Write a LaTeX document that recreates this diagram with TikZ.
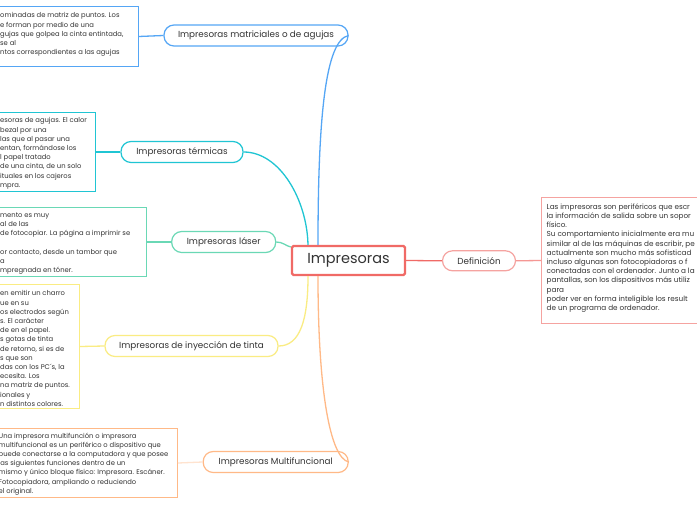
\documentclass[tikz,border=0pt]{standalone}
\usepackage{fontspec}
\setmainfont{Poppins}
\definecolor{txt}{HTML}{333333}
\definecolor{cRed}{HTML}{F06A66}
\definecolor{cSalmon}{HTML}{F5A3A0}
\definecolor{cBlue}{HTML}{55A6F5}
\definecolor{cCyan}{HTML}{20C5D3}
\definecolor{cMint}{HTML}{6AD8B5}
\definecolor{cYellow}{HTML}{FAEC83}
\definecolor{cOrange}{HTML}{FFB987}
\definecolor{cPeach}{HTML}{FFE3CF}
\tikzset{
  pill/.style={draw, rounded corners=10pt, line width=1.2pt, fill=white, minimum height=21pt, inner sep=0pt, font=\fontsize{8.8}{10}\selectfont, text=txt},
  infobox/.style={draw, line width=1pt, fill=white, inner sep=0pt, anchor=north west},
  boxtext/.style={anchor=north west, inner sep=0pt, align=left, font=\fontsize{6.8}{9.2}\selectfont, text=txt},
  link/.style={line width=1.3pt}
}
\begin{document}
\begin{tikzpicture}[x=1pt,y=-1pt]
\useasboundingbox (0,0) rectangle (697,520);
\fill[white] (0,0) rectangle (697,520);
\clip (0,0) rectangle (697,520);

% central
\node[draw=cRed, line width=2.4pt, rounded corners=1.5pt, fill=white, minimum width=113pt, minimum height=29pt, inner sep=0pt, text=txt, font=\fontsize{14.5}{16}\selectfont] (central) at (348.5,260.5) {Impresoras};

% pills
\node[pill, draw=cBlue, minimum width=184pt] (mat) at (256,35.5) {Impresoras matriciales o de agujas};
\node[pill, draw=cCyan, minimum width=122pt] (term) at (182,152) {Impresoras térmicas};
\node[pill, draw=cMint, minimum width=104pt] (laser) at (223.7,242) {Impresoras láser};
\node[pill, draw=cYellow, minimum width=173pt] (iny) at (191.5,346) {Impresoras de inyección de tinta};
\node[pill, draw=cOrange, minimum width=145pt] (multi) at (275.7,462) {Impresoras Multifuncional};
\node[pill, draw=cSalmon, minimum width=73pt, minimum height=20pt] (def) at (479,260.8) {Definición};

% boxes
\node[infobox, draw=cBlue, minimum width=147.5pt, minimum height=60pt] (matbox) at (-10,6) {};
\node[infobox, draw=cCyan, minimum width=105pt, minimum height=79pt] (termbox) at (-10,112) {};
\node[infobox, draw=cMint, minimum width=156pt, minimum height=69pt] (laserbox) at (-10,207) {};
\node[infobox, draw=cYellow, minimum width=89pt, minimum height=124pt] (inybox) at (-10,284) {};
\node[infobox, draw=cOrange, minimum width=187pt, minimum height=69pt] (multibox) at (-10,428) {};
\node[infobox, draw=cSalmon, minimum width=230pt, minimum height=126pt] (defbox) at (541,197) {};

% box texts
\node[boxtext] (mattext) at (0,12.5) {ominadas de matriz de puntos. Los\\e forman por medio de una\\gujas que golpea la cinta entintada,\\se al\\ntos correspondientes a las agujas};
\node[boxtext] (termtext) at (0,117.5) {esoras de agujas. El calor\\bezal por una\\las que al pasar una\\entan, formándose los\\l papel tratado\\de una cinta, de un solo\\ituales en los cajeros\\mpra.};
\node[boxtext] (lasertext) at (0,212.5) {mento es muy\\al de las\\de fotocopiar. La página a imprimir se\\\mbox{}\\or contacto, desde un tambor que\\a\\mpregnada en tóner.};
\node[boxtext] (inytext) at (0,290.5) {en emitir un charro\\ue en su\\os electrodos según\\s. El carácter\\de en el papel.\\s gotas de tinta\\de retorno, si es de\\s que son\\das con los PC´s, la\\ecesita. Los\\na matriz de puntos.\\ionales y\\n distintos colores.};
\node[boxtext] (multitext) at (-1.5,432.5) {Una impresora multifunción o impresora\\multifuncional es un periférico o dispositivo que\\puede conectarse a la computadora y que posee\\las siguientes funciones dentro de un\\mismo y único bloque físico: Impresora. Escáner.\\Fotocopiadora, ampliando o reduciendo\\el original.};
\node[boxtext, font=\fontsize{7.25}{9.2}\selectfont] (deftext) at (546.5,203.5) {Las impresoras son periféricos que escr\\la información de salida sobre un sopor\\físico.\\Su comportamiento inicialmente era mu\\similar al de las máquinas de escribir, pe\\actualmente son mucho más sofisticad\\incluso algunas son fotocopiadoras o f\\conectadas con el ordenador. Junto a la\\pantallas, son los dispositivos más utiliz\\para\\poder ver en forma inteligible los result\\de un programa de ordenador.};

% box-to-pill links
\draw[link, cBlue] (matbox.east) -- (mat.west);
\draw[link, cCyan] (termbox.east) -- (term.west);
\draw[link, cMint] (laserbox.east) -- (laser.west);
\draw[link, cYellow] (inybox.east) -- (iny.west);
\draw[link, cPeach] (multibox.east) -- (multi.west);
\draw[link, cRed!70] (def.east) -- (defbox.west);

% main links
\draw[link, cRed] (central.east) -- (def.west);
\draw[link, cBlue] ([xshift=-30.5pt]central.north) .. controls (318,120) and (325,40) .. (mat.east);
\draw[link, cCyan] ([xshift=-40.5pt]central.north) .. controls (307,200) and (280,152) .. (term.east);
\draw[link, cMint] (laser.east) .. controls (283,242) and (286,246) .. ([yshift=13.5pt]central.west);
\draw[link, cYellow] ([xshift=-40.5pt]central.south) .. controls (308,320) and (300,346) .. (iny.east);
\draw[link, cOrange] ([xshift=-30.5pt]central.south) .. controls (318,390) and (330,458) .. (multi.east);
\end{tikzpicture}
\end{document}
